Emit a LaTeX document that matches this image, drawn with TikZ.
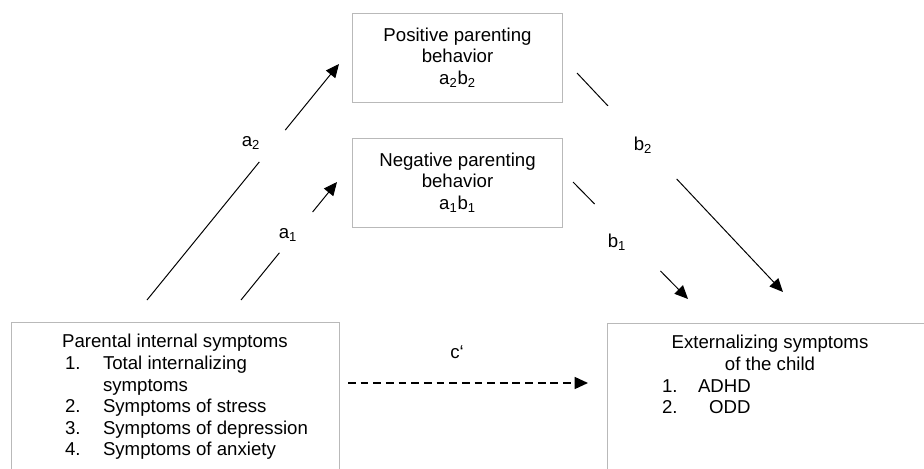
\documentclass[tikz,border=0pt]{standalone}
\usepackage{fontspec}
\setmainfont{Liberation Sans}
\usetikzlibrary{arrows.meta,calc}
\newcommand{\dfont}{\fontsize{13.25pt}{15.3pt}\selectfont}
\newcommand{\pitem}[2]{\makebox[5.5cm][l]{\makebox[0.95cm][l]{#1}#2}}
\newcommand{\eitem}[2]{\makebox[5.4cm][l]{\makebox[0.9cm][l]{#1}#2}}
\tikzset{
  mbox/.style={draw=gray!55, line width=0.7pt, align=center, minimum width=5.25cm, minimum height=2.225cm, inner sep=0pt, font=\dfont},
  sbox/.style={draw=gray!55, line width=0.7pt, align=center, anchor=north, inner xsep=0pt, inner ysep=0.3cm, text depth=4.5cm, font=\dfont},
  mline/.style={line width=0.7pt},
  marrow/.style={line width=0.7pt, -{Triangle[length=9.5pt,width=8.5pt]}},
  mdashed/.style={line width=1.2pt, dash pattern=on 5.5pt off 3.5pt, -{Triangle[length=9.5pt,width=8.5pt]}},
  mlabel/.style={font=\dfont, inner sep=1pt}
}

\begin{document}
\begin{tikzpicture}[x=1cm,y=1cm]
\useasboundingbox (0,0) rectangle (23.1,-11.725);
\clip (0,0) rectangle (23.1,-11.725);
% mediators
\node[mbox] (pos) at (11.4375,-1.4375) {Positive parenting\\behavior\\a\textsubscript{2}b\textsubscript{2}};
\node[mbox] (neg) at (11.4375,-4.5625) {Negative parenting\\behavior\\a\textsubscript{1}b\textsubscript{1}};
% predictor and outcome
\node[sbox, minimum width=8.2cm] (parent) at (4.375,-8.05) {Parental internal symptoms\\
  \pitem{1.}{Total internalizing}\\
  \pitem{}{symptoms}\\
  \pitem{2.}{Symptoms of stress}\\
  \pitem{3.}{Symptoms of depression}\\
  \pitem{4.}{Symptoms of anxiety}};
\node[sbox, minimum width=8.15cm] (ext) at (19.25,-8.075) {Externalizing symptoms\\of the child\\
  \eitem{1.}{ADHD}\\
  \eitem{2.}{\hspace{0.28cm}ODD}};
% path labels
\node[mlabel] (a2lab) at (6.275,-3.575) {a\textsubscript{2}};
\node[mlabel] (a1lab) at (7.2,-5.875) {a\textsubscript{1}};
\node[mlabel] (b2lab) at (16.075,-3.625) {b\textsubscript{2}};
\node[mlabel] (b1lab) at (15.425,-6.05) {b\textsubscript{1}};
\node[mlabel] (clab) at (11.425,-8.8) {c‘};
% end points of the paths
\coordinate (a2from) at (3.675,-7.5);
\coordinate (a2to) at (8.475,-1.6);
\coordinate (a1from) at (6.025,-7.5);
\coordinate (a1to) at (8.425,-4.55);
\coordinate (b2from) at (14.425,-1.825);
\coordinate (b2to) at (19.575,-7.3);
\coordinate (b1from) at (14.325,-4.55);
\coordinate (b1to) at (17.2,-7.475);
\coordinate (cfrom) at (8.7,-9.575);
\coordinate (cto) at (14.7,-9.575);
% a paths
\draw[mline] (a2from) -- ($(a2from)!0.585!(a2to)$);
\draw[marrow] ($(a2from)!0.72!(a2to)$) -- (a2to);
\draw[mline] (a1from) -- ($(a1from)!0.40!(a1to)$);
\draw[marrow] ($(a1from)!0.746!(a1to)$) -- (a1to);
% b paths
\draw[mline] (b2from) -- ($(b2from)!0.15!(b2to)$);
\draw[marrow] ($(b2from)!0.484!(b2to)$) -- (b2to);
\draw[mline] (b1from) -- ($(b1from)!0.188!(b1to)$);
\draw[marrow] ($(b1from)!0.76!(b1to)$) -- (b1to);
% direct path
\draw[mdashed] (cfrom) -- (cto);
\end{tikzpicture}
\end{document}
